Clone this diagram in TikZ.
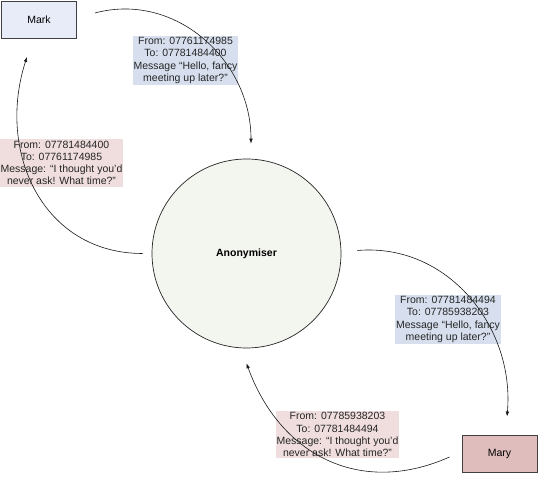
\documentclass[tikz,border=0pt]{standalone}
\usepackage{fontspec}
\setmainfont{Liberation Sans}
\usepackage{tikz}
\usetikzlibrary{arrows.meta, positioning, calc}
\definecolor{markfill}{HTML}{E8ECF8}
\definecolor{maryfill}{HTML}{DFBDBD}
\definecolor{sentblue}{HTML}{D7DFEE}
\definecolor{replypink}{HTML}{F0DEDE}
\definecolor{anonfill}{HTML}{F3F5EF}
\definecolor{edgegrey}{HTML}{404040}
\tikzset{
  party/.style={
    rectangle, minimum width=75pt, minimum height=37pt,
    font=\fontsize{10.5}{12.5}\selectfont, draw=edgegrey, line width=0.9pt, fill=#1
  },
  hub/.style={
    circle, minimum size=189pt, inner sep=0pt, draw=black!85, line width=0.7pt,
    fill=anonfill, font=\fontsize{10.5}{12.5}\selectfont\bfseries
  },
  msg/.style={
    rectangle, fill=#1, align=center, inner xsep=1pt, inner ysep=1.5pt,
    font=\fontsize{10.5}{12.2}\selectfont, text=black!85
  },
  flow/.style={
    -{Latex[length=5pt,width=3.6pt]}, line width=0.6pt, black!90
  }
}
\begin{document}
\begin{tikzpicture}[x=1pt, y=1pt]
  \useasboundingbox (0,0) rectangle (538,482);

  % Parties
  \node[party=markfill] (mark) at (39,462) {Mark};
  \node[party=maryfill] (mary) at (499.5,28.5) {Mary};
  \node[hub] (anon) at (246.5,228.5) {Anonymiser};

  % Messages
  \node[msg=sentblue] (msgmark) at (185.5,421.5) {From: 07761174985\\To: 07781484400\\Message “Hello, fancy\\meeting up later?”};
  \node[msg=replypink] (replymark) at (61.5,319) {From: 07781484400\\To: 07761174985\\Message: “I thought you’d\\never ask! What time?”};
  \node[msg=sentblue] (msgmary) at (448,162.5) {From: 07781484494\\To: 07785938203\\Message “Hello, fancy\\meeting up later?”};
  \node[msg=replypink] (replymary) at (337.5,47.5) {From: 07785938203\\To: 07781484494\\Message: “I thought you’d\\never ask! What time?”};

  % Connection ends
  \coordinate (markout) at ([shift={(18pt,7pt)}]mark.east);
  \coordinate (markin) at ([shift={(-12pt,-18pt)}]mark.south);
  \coordinate (anontop) at ([shift={(4.5pt,15pt)}]anon.north);
  \coordinate (anonleft) at ([shift={(-9pt,0pt)}]anon.west);
  \coordinate (anonright) at ([shift={(16pt,3pt)}]anon.east);
  \coordinate (anonbottom) at ([shift={(0pt,-15pt)}]anon.south);
  \coordinate (maryin) at ([shift={(7.5pt,18pt)}]mary.north);
  \coordinate (maryout) at ([shift={(-12pt,-3.5pt)}]mary.west);

  % Connections
  \draw[flow] (markout) to[out=15, in=90, looseness=1.05] (anontop);
  \draw[flow] (anonleft) to[out=180, in=-108, looseness=1.12] (markin);
  \draw[flow] (anonright) to[out=5, in=85, looseness=1.03] (maryin);
  \draw[flow] (maryout) to[out=204, in=-70, looseness=1.12] (anonbottom);

\end{tikzpicture}
\end{document}
